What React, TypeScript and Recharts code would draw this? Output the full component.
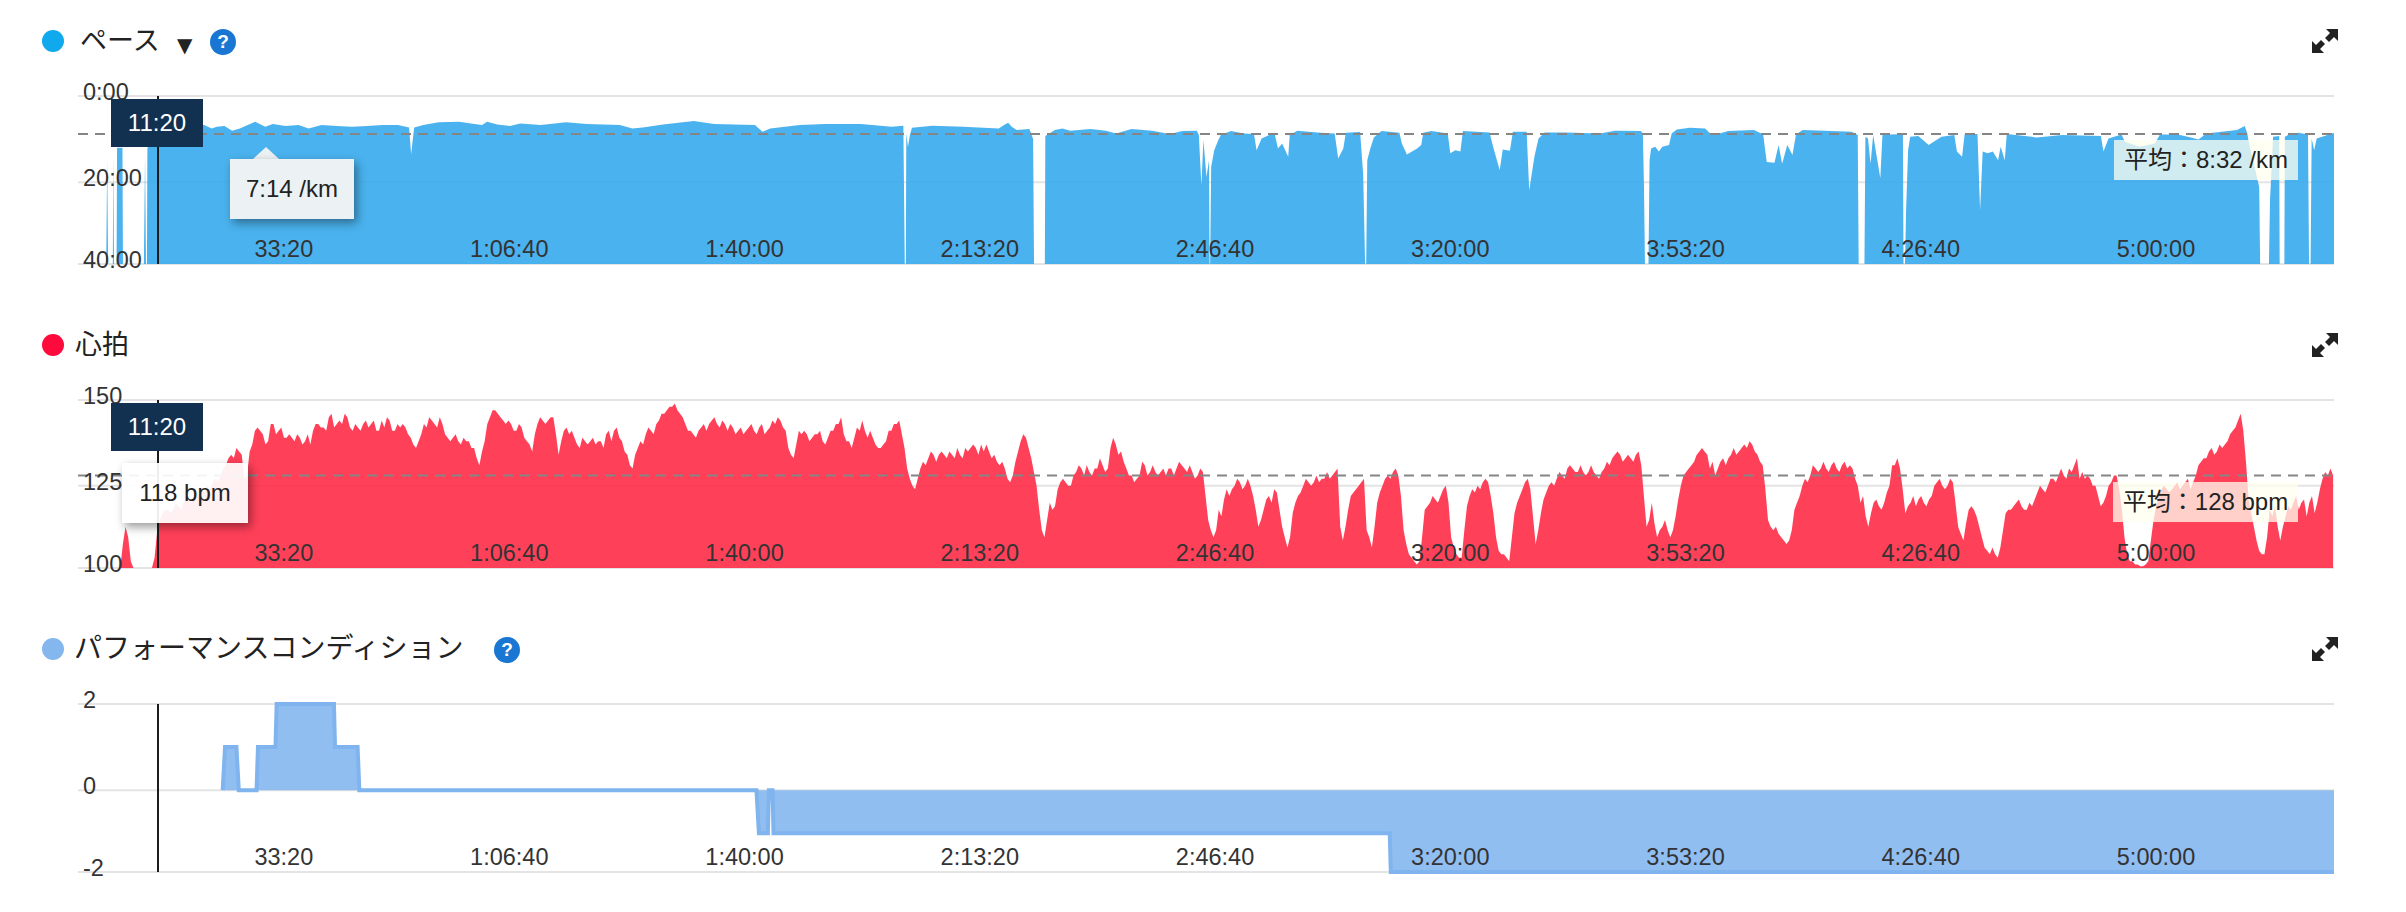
import React from "react";
import {
  Area,
  AreaChart,
  CartesianGrid,
  ReferenceLine,
  XAxis,
  YAxis,
} from "recharts";

// elapsed seconds, shown as clock labels
const timeTicks = [2000, 4000, 6000, 8000, 10000, 12000, 14000, 16000, 18000];
const timeLabels = ["33:20", "1:06:40", "1:40:00", "2:13:20", "2:46:40", "3:20:00", "3:53:20", "4:26:40", "5:00:00"];
const timeMax = 19180;
const cursorTime = 680;

// pace, minutes per km (39 = floor of the plot, i.e. a pause)
const paceTicks = [0, 20, 39];
const paceTickLabels = ["0:00", "20:00", "40:00"];
const paceAverageLine = 8.8;
const paceTimes = [
  0, 240, 248, 256, 296, 300, 306, 328, 332, 378, 382, 560, 570, 578, 586, 590, 640, 665, 800, 950,
  1072, 1137, 1180, 1245, 1310, 1375, 1506, 1592, 1657, 1765, 1874, 1961, 2070,
  2199, 2329, 2459, 2589, 2720, 2815, 2832, 2858, 2936, 3066, 3240, 3370, 3435, 3478, 3565,
  3673, 3760, 3934, 4150, 4324, 4606, 4714, 4801, 4974, 5235, 5408, 5755, 5820, 5885,
  6137, 6353, 6657, 6917, 7017, 7029, 7038, 7042, 7056, 7073, 7090,
  7264, 7525, 7829, 7873, 7908, 7938, 7981, 8089, 8120, 8128, 8220, 8224,
  8305, 8370, 8435, 8609, 8739, 8826, 8957, 9130, 9282, 9390, 9512,
  9529, 9551, 9568, 9594, 9616, 9620, 9625, 9634, 9660, 9695, 9716, 9803, 9912, 9998,
  10020, 10063, 10172, 10202, 10237, 10289, 10302, 10367, 10562, 10684, 10714, 10757, 10779, 10900,
  10926, 10943, 10952, 10961, 10987, 11017, 11082, 11234, 11255, 11298, 11385, 11420, 11437, 11506,
  11645, 11667, 11710, 11753, 11774, 12000, 12035, 12087, 12113, 12174, 12199, 12316, 12338, 12382, 12417, 12469, 12643, 12938,
  13068, 13287, 13304, 13313, 13322, 13352, 13361, 13374, 13409, 13440, 13470, 13527, 13549, 13593, 13702, 13833, 13877, 13942, 14030, 14248,
  14327, 14357, 14423, 14458, 14488, 14532, 14576, 14606, 14663, 14904, 15078, 15131, 15139, 15188, 15196, 15218, 15240, 15262, 15323, 15341, 15406, 15515,
  15520, 15533, 15542, 15559, 15577, 15646, 15734, 15843, 15952, 15974, 16018, 16040, 16149, 16171, 16193, 16236, 16280, 16324, 16346, 16381, 16398,
  16652, 16870, 17198, 17220, 17263, 17373, 17403, 17526, 17657, 17700, 17853, 17963, 18028, 18094, 18356, 18421, 18443, 18452, 18544, 18552, 18627,
  18636, 18662, 18714, 18718, 18758, 18762, 18815, 18880, 18959, 18968, 18981, 18990, 19011, 19033, 19164, 19180,
];
const paceValues = [
  39, 39, 15, 39, 39, 14, 39, 39, 12, 12, 39, 39, 14, 39, 39, 12, 11, 8, 7.3, 7,
  6.74, 7.52, 7.13, 6.98, 8.06, 7.52, 5.97, 7.13, 6.51, 6.98, 6.74, 7.52, 6.74,
  6.98, 7.13, 6.98, 6.74, 6.74, 7.29, 13.5, 7.29, 6.74, 6.12, 5.97, 6.51, 6.74, 5.97, 6.59,
  6.98, 6.36, 6.74, 6.12, 6.51, 6.74, 7.52, 7.29, 6.59, 5.81, 6.51, 6.74, 8.29, 7.52,
  6.74, 6.51, 6.51, 7.13, 6.9, 39, 39, 8.7, 11.8, 9.07, 7.36,
  6.9, 7.13, 7.52, 6.74, 6.2, 7.13, 7.91, 7.67, 10, 39, 39, 9.3,
  7.91, 7.52, 8.06, 7.67, 8.06, 8.68, 7.67, 8.06, 8.84, 8.14, 8.06,
  9.07, 20.7, 10.2, 18.8, 14.9, 39, 39, 16.4, 12.6, 10.2, 9.07, 8.14, 8.68, 8.84,
  12.6, 9.85, 8.53, 12.2, 11, 14.1, 9.07, 8.06, 8.53, 8.68, 14.5, 12.2, 8.53, 8.37,
  18, 39, 39, 14.9, 12.2, 9.61, 8.14, 8.53, 11, 13.6, 12.2, 11.4, 8.53, 8.14,
  8.68, 13.3, 12.6, 12.9, 8.14, 8.45, 12.2, 17.2, 12.4, 12.7, 8.29, 8.29, 21.9, 14.1, 9.85, 8.45, 8.45, 8.68,
  8.06, 8.14, 8.68, 20, 39, 39, 14.9, 12.2, 11.8, 12.9, 11.8, 11.4, 8.68, 7.75, 7.36, 7.52, 8.68, 8.84, 8.14, 7.91,
  8.91, 15.3, 15.5, 11.4, 15.7, 11.4, 13.7, 8.91, 7.91, 8.14, 8.29, 9.07, 39, 39, 9.46, 9.84, 15.7, 9.07, 19.1, 9.07, 8.91, 8.84,
  39, 39, 26.5, 12.6, 9.46, 9.3, 11.4, 9.46, 9.07, 12.9, 14.1, 8.84, 8.84, 26.5, 12.9, 13.3, 12.9, 14.9, 11.8, 14.9, 8.84,
  9.61, 9.07, 9.3, 12.9, 9.84, 8.91, 10.6, 11.8, 11, 8.91, 8.91, 9.61, 10.1, 8.68, 7.91, 6.98, 8.68, 10.2, 21.1, 39, 39,
  24.2, 9.46, 9.3, 39, 39, 9.46, 8.68, 8.53, 8.91, 39, 39, 9.84, 12.6, 9.84, 8.68, 8.6,
];

// heart rate, one reading every 22.45 s
const hrStep = 22.45;
const hrTicks = [150, 125, 101];
const hrTickLabels = ["150", "125", "100"];
const hrAverage = 128;
const hrValues = [
  101, 101, 101, 101, 101, 101, 101, 101, 101, 101, 101, 101, 101, 101, 101, 101, 101, 108, 113, 110,
  103, 101, 101, 101, 101, 101, 101, 101, 101, 104, 112, 115, 117, 118, 118, 117, 118, 120, 119, 118,
  120, 122, 121, 120, 122, 123, 122, 124, 123, 125, 124, 126, 127, 126, 128, 130, 131, 133, 134, 133,
  136, 135, 134, 127, 128, 135, 137, 141, 142, 141, 140, 137, 138, 143, 143, 140, 141, 142, 139, 139,
  140, 139, 138, 140, 139, 137, 138, 140, 137, 141, 143, 143, 142, 142, 141, 145, 146, 142, 143, 144,
  143, 146, 145, 142, 141, 143, 142, 141, 143, 144, 142, 143, 144, 141, 141, 144, 142, 145, 144, 141,
  141, 143, 142, 143, 142, 140, 139, 137, 136, 138, 140, 143, 142, 145, 144, 143, 142, 145, 143, 140,
  139, 138, 139, 140, 138, 137, 139, 138, 138, 136, 136, 133, 131, 135, 138, 143, 145, 147, 147, 146,
  145, 144, 143, 144, 143, 141, 141, 143, 142, 139, 138, 137, 135, 140, 143, 145, 144, 143, 144, 145,
  145, 140, 134, 138, 141, 142, 140, 141, 139, 137, 136, 139, 138, 137, 138, 139, 137, 138, 138, 136,
  140, 141, 138, 141, 142, 139, 138, 135, 134, 131, 130, 134, 136, 138, 137, 140, 142, 141, 140, 143,
  144, 146, 146, 147, 148, 148, 149, 147, 146, 145, 143, 141, 141, 140, 139, 141, 142, 143, 141, 143,
  144, 145, 143, 142, 144, 143, 141, 143, 142, 140, 141, 142, 140, 141, 142, 143, 141, 140, 142, 143,
  140, 141, 142, 144, 143, 145, 144, 142, 141, 136, 134, 133, 137, 141, 140, 141, 140, 138, 139, 140,
  140, 141, 138, 137, 139, 141, 141, 143, 143, 145, 140, 138, 138, 136, 139, 142, 141, 144, 141, 139,
  141, 139, 137, 136, 136, 137, 138, 141, 141, 143, 143, 144, 140, 136, 130, 127, 125, 124, 127, 130,
  132, 131, 133, 135, 134, 132, 134, 135, 134, 133, 135, 134, 133, 136, 134, 133, 136, 135, 136, 137,
  136, 134, 137, 135, 137, 135, 133, 134, 132, 131, 132, 130, 127, 126, 128, 132, 135, 138, 140, 139,
  136, 133, 129, 125, 118, 112, 110, 115, 120, 118, 119, 124, 126, 127, 126, 125, 125, 128, 129, 131,
  130, 128, 131, 129, 128, 130, 130, 133, 131, 129, 130, 136, 139, 137, 134, 135, 132, 130, 128, 128,
  126, 127, 128, 132, 131, 128, 129, 131, 129, 128, 129, 130, 128, 130, 130, 128, 130, 132, 131, 130,
  129, 131, 129, 127, 128, 130, 129, 122, 115, 112, 110, 112, 118, 116, 121, 124, 122, 124, 125, 127,
  126, 124, 125, 127, 125, 122, 118, 113, 115, 118, 121, 122, 120, 124, 123, 118, 113, 110, 107, 110,
  117, 120, 122, 123, 125, 127, 126, 125, 126, 128, 126, 127, 127, 129, 127, 128, 129, 130, 113, 109,
  113, 118, 122, 123, 124, 125, 126, 127, 112, 110, 107, 113, 120, 123, 125, 127, 128, 127, 129, 130,
  128, 122, 112, 108, 105, 104, 103, 102, 103, 110, 118, 119, 120, 122, 121, 120, 122, 124, 125, 120,
  110, 107, 105, 104, 104, 112, 119, 122, 124, 123, 125, 124, 126, 127, 126, 122, 117, 110, 106, 105,
  105, 104, 103, 110, 117, 120, 122, 124, 126, 127, 124, 116, 108, 112, 117, 121, 123, 125, 126, 125,
  127, 129, 128, 127, 130, 131, 130, 129, 129, 131, 129, 128, 129, 131, 129, 128, 127, 129, 130, 132,
  131, 133, 134, 135, 134, 132, 133, 134, 133, 132, 134, 135, 131, 122, 113, 115, 120, 114, 110, 112,
  113, 115, 112, 110, 112, 116, 121, 125, 128, 129, 130, 131, 132, 134, 135, 136, 135, 134, 130, 132,
  128, 130, 132, 133, 131, 133, 134, 136, 134, 135, 136, 137, 136, 138, 137, 135, 134, 132, 131, 124,
  115, 113, 112, 113, 111, 110, 109, 108, 109, 112, 118, 120, 122, 125, 127, 126, 128, 131, 130, 129,
  130, 132, 130, 129, 131, 132, 130, 129, 131, 132, 130, 131, 130, 127, 125, 120, 122, 116, 113, 117,
  120, 121, 119, 118, 120, 123, 125, 131, 131, 133, 130, 124, 117, 119, 120, 122, 119, 121, 122, 120,
  119, 121, 122, 125, 126, 127, 125, 124, 125, 127, 126, 120, 113, 111, 109, 114, 118, 119, 118, 116,
  113, 110, 107, 106, 105, 107, 105, 104, 107, 112, 117, 118, 118, 119, 120, 121, 119, 118, 118, 120,
  119, 121, 123, 125, 124, 123, 125, 127, 127, 126, 128, 130, 128, 127, 130, 129, 131, 133, 127, 129,
  127, 128, 127, 125, 125, 122, 119, 120, 122, 125, 126, 128, 128, 124, 118, 110, 105, 103, 103, 102,
  102, 101.5, 101.5, 102, 103, 109, 115, 119, 122, 124, 125, 124, 123, 124, 125, 126, 124, 125, 126, 127,
  124, 126, 128, 131, 132, 133, 133, 135, 136, 134, 135, 137, 136, 137, 138, 140, 141, 142, 144, 146,
  141, 132, 121, 117, 113, 109, 106, 105, 105, 110, 118, 116, 119, 113, 109, 113, 116, 119, 118, 120,
  122, 118, 120, 121, 116, 120, 122, 117, 120, 124, 127, 129, 128, 130, 128,
];

// performance condition, stepped
const condTicks = [2, 0, -1.9];
const condTickLabels = ["2", "0", "-2"];
const condTimes = [1230, 1250, 1347, 1367, 1518, 1530, 1679, 1689, 2176, 2185, 2377, 2392, 5768, 5789, 5865, 5874, 5905, 5913, 11152, 11161, 19180];
const condValues = [0, 1, 1, 0, 0, 1, 1, 2, 2, 1, 1, 0, 0, -1, -1, 0, 0, -1, -1, -1.9, -1.9];

const sans = '"Liberation Sans", "Noto Sans CJK JP", sans-serif';

const paceData = paceTimes.map((t, i) => ({ t, v: paceValues[i] }));
const hrData = hrValues.map((v, i) => ({ t: i * hrStep, v }));
const condData = condTimes.map((t, i) => ({ t, v: condValues[i] }));

function Panel({ top, data, domain, ticks, tickLabels, reversed, baseValue, fill, opacity, stroke, average }: any) {
  return (
    <div style={{ position: "absolute", left: 0, top }}>
      <AreaChart width={2406} height={218} data={data} margin={{ top: 30, right: 72, bottom: 0, left: 0 }}>
        <CartesianGrid vertical={false} stroke="#e4e4e4" strokeWidth={2} />
        <Area
          type="linear"
          dataKey="v"
          baseValue={baseValue}
          fill={fill}
          fillOpacity={opacity}
          stroke={stroke || "none"}
          strokeWidth={stroke ? 4 : 0}
          dot={false}
          activeDot={false}
          isAnimationActive={false}
        />
        {average !== undefined && (
          <ReferenceLine y={average} stroke="#858585" strokeWidth={2} strokeDasharray="10 7" />
        )}
        <ReferenceLine x={cursorTime} stroke="#1c1c1c" strokeWidth={2} />
        <XAxis
          type="number"
          dataKey="t"
          domain={[0, timeMax]}
          ticks={timeTicks}
          interval={0}
          height={20}
          axisLine={false}
          tickLine={false}
          tickSize={0}
          tick={(p: any) => (
            <text x={p.x} y={p.y - 9} textAnchor="end" fontSize={23.5} fontFamily={sans} fill="#333">
              {timeLabels[timeTicks.indexOf(p.payload.value)]}
            </text>
          )}
        />
        <YAxis
          type="number"
          width={78}
          domain={domain}
          ticks={ticks}
          interval={0}
          reversed={reversed}
          axisLine={false}
          tickLine={false}
          tickSize={0}
          tick={(p: any) => (
            <text x={83} y={p.y + 4} textAnchor="start" fontSize={23.5} fontFamily={sans} fill="#333">
              {tickLabels[ticks.indexOf(p.payload.value)]}
            </text>
          )}
        />
      </AreaChart>
    </div>
  );
}

function Title({ top, color, text, textLeft, size }: any) {
  return (
    <>
      <div style={{ position: "absolute", left: 42, top: top - 11, width: 22, height: 22, borderRadius: 11, background: color }} />
      <div style={{ position: "absolute", left: textLeft, top: top - 20, height: 40, lineHeight: "40px", fontSize: size, fontFamily: sans, color: "#222", whiteSpace: "nowrap" }}>
        {text}
      </div>
    </>
  );
}

function Help({ left, top }: any) {
  return (
    <div style={{ position: "absolute", left, top, width: 26, height: 26, borderRadius: 13, background: "#1976d2", color: "#fff", fontFamily: sans, fontWeight: 700, fontSize: 19, lineHeight: "26px", textAlign: "center" }}>
      ?
    </div>
  );
}

function Expand({ top }: any) {
  return (
    <svg style={{ position: "absolute", left: 2312, top }} width={26} height={24} viewBox="0 0 26 24">
      <path d="M14 0 H26 V12 L22 8 L17 13 L13 9 L18 4 Z" fill="#222" />
      <path d="M12 24 H0 V12 L4 16 L9 11 L13 15 L8 20 Z" fill="#222" />
    </svg>
  );
}

function TimeBox({ top }: any) {
  return (
    <div style={{ position: "absolute", left: 111, top, width: 92, height: 48, background: "#12304f", color: "#fff", fontFamily: sans, fontSize: 24, lineHeight: "48px", textAlign: "center" }}>
      11:20
    </div>
  );
}

function Note({ left, top, width, height, background, text, shadow }: any) {
  return (
    <div style={{ position: "absolute", left, top, width, height, background, boxShadow: shadow ? "3px 4px 9px rgba(0,0,0,0.4)" : undefined, color: "#222", fontFamily: sans, fontSize: 24, lineHeight: `${height}px`, textAlign: "center", whiteSpace: "nowrap" }}>
      {text}
    </div>
  );
}

export default function App() {
  return (
    <div style={{ position: "absolute", left: 0, top: 0, width: 2406, height: 912, background: "#fff", overflow: "hidden" }}>
      <Panel top={66} data={paceData} domain={[0, 39]} ticks={paceTicks} tickLabels={paceTickLabels} reversed baseValue={39} fill="#36aaec" opacity={0.9} average={paceAverageLine} />
      <Panel top={370} data={hrData} domain={[101, 150]} ticks={hrTicks} tickLabels={hrTickLabels} baseValue={101} fill="#ff2b47" opacity={0.9} average={hrAverage} />
      <Panel top={674} data={condData} domain={[-1.9, 2]} ticks={condTicks} tickLabels={condTickLabels} baseValue={0} fill="#85b7ef" opacity={0.9} stroke="#7fb4ee" />

      <Title top={41} color="#11a9ed" text="ペース" textLeft={80} size={27} />
      <div style={{ position: "absolute", left: 177, top: 30, fontSize: 20, lineHeight: "30px", fontFamily: '"DejaVu Sans"', color: "#222" }}>▼</div>
      <Help left={210} top={29} />
      <Expand top={29} />
      <Title top={345} color="#ff0a3c" text="心拍" textLeft={75} size={27} />
      <Expand top={333} />
      <Title top={649} color="#85b7ef" text="パフォーマンスコンディション" textLeft={74} size={28} />
      <Help left={494} top={637} />
      <Expand top={637} />

      <TimeBox top={99} />
      <TimeBox top={403} />

      <div style={{ position: "absolute", left: 253, top: 147, width: 0, height: 0, borderLeft: "13px solid transparent", borderRight: "13px solid transparent", borderBottom: "12px solid #ecf1f4" }} />
      <Note left={230} top={159} width={124} height={60} background="#ecf1f4" text="7:14 /km" shadow />
      <Note left={122} top={463} width={126} height={60} background="rgba(255,255,255,0.92)" text="118 bpm" shadow />
      <Note left={2114} top={140} width={184} height={40} background="rgba(255,255,240,0.75)" text="平均：8:32 /km" />
      <Note left={2113} top={482} width={185} height={40} background="rgba(255,255,240,0.75)" text="平均：128 bpm" />
    </div>
  );
}
